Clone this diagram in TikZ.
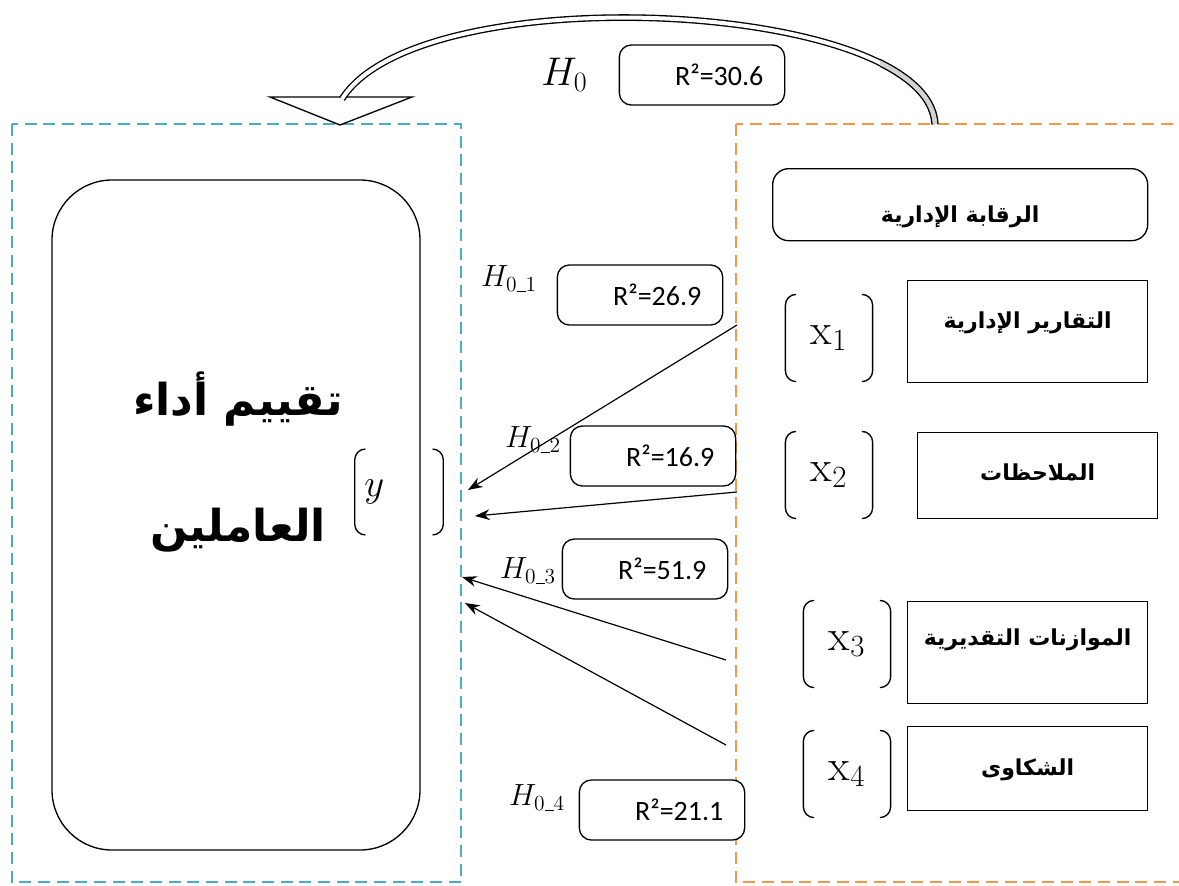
\RequirePackage{fix-cm}
\documentclass[tikz,border=0pt]{standalone}
\usepackage{fontspec}
\usetikzlibrary{positioning}
\usetikzlibrary{arrows.meta}
\TeXXeTstate=1
\newfontfamily\arabicfont[Script=Arabic]{DejaVu Sans}
\newfontfamily\rfont{Carlito}
\definecolor{bluedash}{RGB}{75,172,198}
\definecolor{orangedash}{RGB}{247,150,70}
\newcommand\usc{\rule[-0.1ex]{0.3em}{0.05em}}
\tikzset{
    x=0.75pt, y=-0.75pt,
    frame/.style={
        line width=1.9pt,
        dash pattern=on 9pt off 5pt
    },
    rsq/.style={
        draw, fill=white,
        rounded corners=9pt,
        line width=1pt,
        inner xsep=16pt,
        text width=92pt,
        align=right,
        minimum height=45pt,
        font=\rfont\fontsize{21}{24}\selectfont
    },
    hyp/.style={
        font=\fontsize{23}{26}\selectfont
    },
    arbox/.style 2 args={
        draw,
        line width=1pt,
        minimum width=180pt,
        inner sep=0pt,
        text height=#1,
        text depth=#2,
        anchor=north west,
        font=\arabicfont\bfseries\fontsize{16.5}{20}\selectfont
    },
    brk/.style={
        minimum width=65pt,
        minimum height=65pt,
        font=\fontsize{33}{36}\selectfont
    },
    conn/.style={
        draw,
        ->, >={Stealth[length=11pt,width=8pt]},
        line width=0.9pt
    }
}
% rounded square brackets round a node
\newcommand\brackets[1]{%
    \draw[line width=1pt, rounded corners=8pt]
        ([xshift=8pt]#1.north west) -- (#1.north west)
        -- (#1.south west) -- ([xshift=8pt]#1.south west);
    \draw[line width=1pt, rounded corners=8pt]
        ([xshift=-8pt]#1.north east) -- (#1.north east)
        -- (#1.south east) -- ([xshift=-8pt]#1.south east);
}

\begin{document}
\begin{tikzpicture}
    \useasboundingbox (0,0) rectangle (1179,886);

    % the two frames
    \draw[frame, draw=bluedash] (12,124) rectangle (461,882);
    \draw[frame, draw=orangedash] (736,124) rectangle (1195,882);

    % dependent variable
    \node[draw, line width=1pt, rounded corners=45pt, minimum width=276pt, minimum height=502.5pt] (perf) at (236,515) {};
    \node[font=\arabicfont\bfseries\fontsize{33}{94}\selectfont, align=center] (perftxt) at (238,462)
        {\beginR تقييم أداء\endR\\\beginR العاملين\endR};
    \node[brk, font=\fontsize{29}{32}\selectfont, minimum width=66pt, minimum height=64pt, inner xsep=7pt, text width=52pt, align=left] (ybr) at (399,492) {$y$};
    \brackets{ybr}

    % main hypothesis arrow
    \coordinate (hs) at (935,124);
    \coordinate (he) at (342,99);
    \draw[fill=white, line width=1pt] (270,97) -- (412,97) -- (340,125) -- cycle;
    \draw[line width=1pt, double=white, double distance=3pt] (hs) .. controls (928,0) and (420,-25) .. (he);
    \begin{scope}
        \clip (880,0) rectangle (1000,124);
        \draw[line width=1pt, double=gray!35, double distance=3.5pt] (hs) .. controls (928,0) and (420,-25) .. (he);
    \end{scope}
    \node[rsq] (r0) at (702,75) {R²=30.6};
    \node[font=\fontsize{30}{34}\selectfont, left=20pt of r0] (h0) {$H_0$};

    % sub-hypothesis arrows
    \coordinate (s1) at (737,325);
    \coordinate (t1) at (468,490);
    \coordinate (s2) at (737,492);
    \coordinate (t2) at (475,516);
    \coordinate (s3) at (726,660);
    \coordinate (t3) at (462,577);
    \coordinate (s4) at (726,745);
    \coordinate (t4) at (465,603);
    \draw[conn] (s1) -- (t1);
    \draw[conn] (s2) -- (t2);
    \draw[conn] (s3) -- (t3);
    \draw[conn] (s4) -- (t4);

    \node[rsq] (r1) at (640,295) {R²=26.9};
    \node[rsq] (r2) at (653,456) {R²=16.9};
    \node[rsq] (r3) at (645,569) {R²=51.9};
    \node[rsq] (r4) at (662,810) {R²=21.1};
    \node[hyp] (h1) at (509,279) {$H_{0\usc 1}$};
    \node[hyp] (h2) at (533,440) {$H_{0\usc 2}$};
    \node[hyp] (h3) at (528,571) {$H_{0\usc 3}$};
    \node[hyp] (h4) at (537,798) {$H_{0\usc 4}$};

    % independent variables
    \node[arbox={40.5pt}{13.5pt}, minimum width=281.25pt, rounded corners=12pt] (ctrl) at (772,168) {\beginR الرقابة الإدارية\endR};
    \node[arbox={36pt}{40.5pt}] (v1) at (907,280) {\beginR التقارير الإدارية\endR};
    \node[arbox={36pt}{28.5pt}] (v2) at (917,432) {\beginR الملاحظات\endR};
    \node[arbox={33pt}{43.5pt}] (v3) at (907,601) {\beginR الموازنات التقديرية\endR};
    \node[arbox={36.75pt}{26.25pt}] (v4) at (907,726) {\beginR الشكاوى\endR};

    \node[brk] (x1) at (829,338) {$\mathrm{x}_1$};
    \node[brk] (x2) at (829,475) {$\mathrm{x}_2$};
    \node[brk] (x3) at (847,644) {$\mathrm{x}_3$};
    \node[brk] (x4) at (847,774) {$\mathrm{x}_4$};
    \brackets{x1}
    \brackets{x2}
    \brackets{x3}
    \brackets{x4}
\end{tikzpicture}
\end{document}
